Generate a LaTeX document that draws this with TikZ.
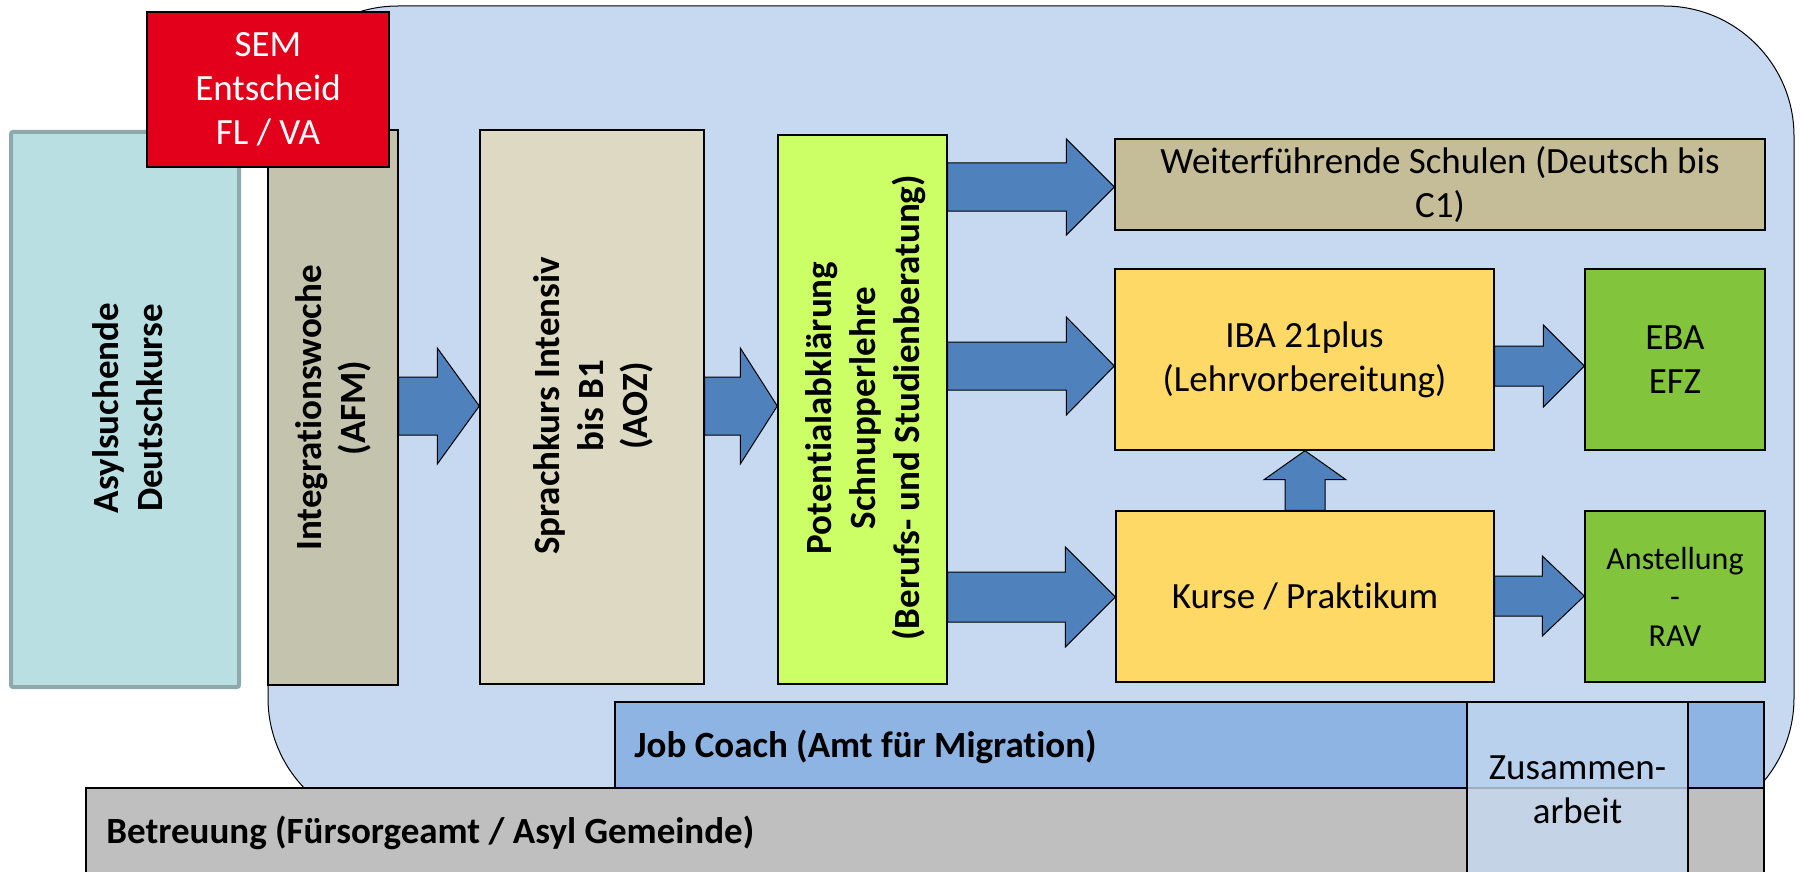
\documentclass[tikz,border=0pt]{standalone}
\usepackage{fontspec}
\setmainfont{Carlito}[RawFeature={-liga}]
\usetikzlibrary{calc}

\definecolor{regionfill}{HTML}{C6D9F0}
\definecolor{asylfill}{HTML}{BADFE2}
\definecolor{asylborder}{HTML}{8DA9AB}
\definecolor{semred}{HTML}{E2001A}
\definecolor{integfill}{HTML}{C4C4AE}
\definecolor{sprachfill}{HTML}{DDD9C3}
\definecolor{potfill}{HTML}{CCFF66}
\definecolor{weiterfill}{HTML}{C4BD97}
\definecolor{ibafill}{HTML}{FFD966}
\definecolor{ebafill}{HTML}{82C43C}
\definecolor{arrowfill}{HTML}{4F81BD}
\definecolor{jobfill}{HTML}{8EB4E3}
\definecolor{betfill}{HTML}{BFBFBF}

% block arrow to the right: from, to, y, shaft half, head half, head length
\newcommand{\rightblock}[6]{%
  \draw[blockarrow] (#1.east |- 0,#3-#4)
    -- ($(#2.west |- 0,#3-#4)+(-#6,0)$)
    -- ($(#2.west |- 0,#3-#5)+(-#6,0)$)
    -- (#2.west |- 0,#3)
    -- ($(#2.west |- 0,#3+#5)+(-#6,0)$)
    -- ($(#2.west |- 0,#3+#4)+(-#6,0)$)
    -- (#1.east |- 0,#3+#4) -- cycle;}

% block arrow upwards: from, to, x, shaft half, head half, head length
\newcommand{\upblock}[6]{%
  \draw[blockarrow] (#3-#4,0 |- #1.north)
    -- ($(#3-#4,0 |- #2.south)+(0,#6)$)
    -- ($(#3-#5,0 |- #2.south)+(0,#6)$)
    -- (#3,0 |- #2.south)
    -- ($(#3+#5,0 |- #2.south)+(0,#6)$)
    -- ($(#3+#4,0 |- #2.south)+(0,#6)$)
    -- (#3+#4,0 |- #1.north) -- cycle;}

\begin{document}
\begin{tikzpicture}[x=0.5pt,y=-0.5pt,
  box/.style={draw=black, line width=0.7pt, inner sep=0pt, align=center,
    font=\fontsize{18.5}{22}\selectfont},
  vtext/.style={rotate=90, align=center, inner sep=0pt,
    font=\fontsize{18.5}{22}\selectfont\bfseries},
  barlabel/.style={anchor=west, inner sep=0pt,
    font=\fontsize{18.5}{22}\selectfont\bfseries},
  blockarrow/.style={fill=arrowfill, draw=black, line width=0.5pt, line join=miter}]

  \useasboundingbox (0,0) rectangle (1800,872);

  % Draw the large rounded region in the background
  \draw[fill=regionfill, line width=0.5pt, rounded corners=65pt] (268,6) rectangle (1794,828);

  % Draw the first column of boxes
  \node[box, draw=asylborder, line width=2pt, rounded corners=1pt, fill=asylfill,
    minimum width=114pt, minimum height=277.5pt] (asyl) at (125,409.5) {};
  \node[vtext] (asyltext) at (128,408) {Asylsuchende\\Deutschkurse};

  \node[box, fill=integfill, minimum width=65pt, minimum height=277.5pt] (integ) at (333,407.5) {};
  \node[vtext] (integtext) at (333,408) {Integrationswoche\\(AFM)};

  \node[box, fill=semred, text=white, minimum width=121pt, minimum height=77.5pt] (sem) at (268,89.5)
    {SEM\\Entscheid\\FL / VA};

  \node[box, fill=sprachfill, minimum width=112pt, minimum height=277pt] (sprach) at (592,407) {};
  \node[vtext] (sprachtext) at (593,406) {Sprachkurs Intensiv\\bis B1\\(AOZ)};

  \node[box, fill=potfill, minimum width=84.5pt, minimum height=274.5pt] (pot) at (862.5,409.5) {};
  \node[vtext] (pottext) at (866,408) {Potentialabklärung\\Schnupperlehre\\(Berufs- und Studienberatung)};

  % Draw the boxes on the right
  \node[box, fill=weiterfill, minimum width=325pt, minimum height=45.5pt] (weiter) at (1440,184.5)
    {Weiterführende Schulen (Deutsch bis\\C1)};
  \node[box, fill=ibafill, minimum width=189.5pt, minimum height=90.5pt] (iba) at (1304.5,359.5)
    {IBA 21plus\\(Lehrvorbereitung)};
  \node[box, fill=ebafill, minimum width=90pt, minimum height=90.5pt] (eba) at (1675,359.5)
    {EBA\\EFZ};
  \node[box, fill=ibafill, minimum width=189pt, minimum height=85.5pt] (kurse) at (1305,596.5)
    {Kurse / Praktikum};
  \node[box, fill=ebafill, minimum width=90pt, minimum height=85.5pt,
    font=\fontsize{16}{19.3}\selectfont] (anst) at (1675,596.5)
    {Anstellung\\-\\RAV};

  % Draw the block arrows
  \rightblock{integ}{sprach}{406}{29}{58}{42}
  \rightblock{sprach}{pot}{406}{29}{58}{37}
  \rightblock{pot}{weiter}{187}{24}{48}{48}
  \rightblock{pot}{iba}{366}{24}{49}{48}
  \rightblock{pot}{kurse}{597}{25}{50}{50}
  \rightblock{iba}{eba}{366}{20}{41}{41}
  \rightblock{kurse}{anst}{596}{20}{40}{42}
  \upblock{kurse}{iba}{1305}{20}{41}{29}

  % Draw the bars at the bottom
  \node[box, fill=jobfill, minimum width=574.5pt, minimum height=43pt] (job) at (1189.5,745) {};
  \node[barlabel] (jobtext) at (634,747) {Job Coach (Amt für Migration)};

  \node[box, fill=betfill, minimum width=839pt, minimum height=45pt] (betreuung) at (925,833) {};
  \node[barlabel] (bettext) at (106,833) {Betreuung (Fürsorgeamt / Asyl Gemeinde)};

  \node[box, fill=regionfill, fill opacity=0.8, text opacity=1, minimum width=110.5pt,
    minimum height=87.5pt] (zusammen) at (1577.5,789.5) {Zusammen-\\arbeit};
\end{tikzpicture}
\end{document}
